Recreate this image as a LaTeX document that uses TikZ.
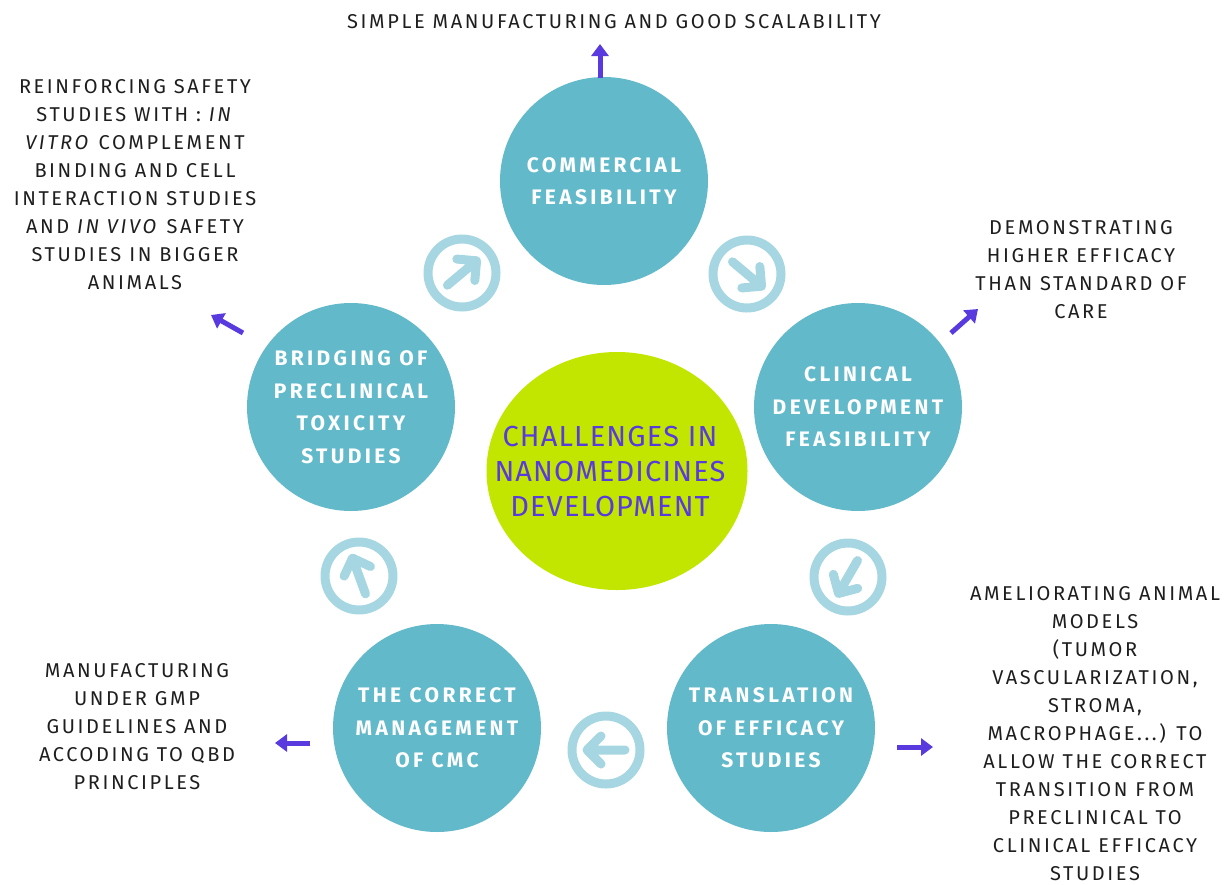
\documentclass[tikz,border=0pt]{standalone}
\usepackage{fontspec}
\setmainfont{Fira Sans}
\newfontfamily\lblfont[LetterSpace=13]{Fira Sans}
\newfontfamily\circfont[LetterSpace=16]{Fira Sans}
\newfontfamily\ctrfont[LetterSpace=4]{Fira Sans}
\usetikzlibrary{arrows.meta,shapes.geometric}
\definecolor{tealc}{RGB}{98,185,202}
\definecolor{ringc}{RGB}{166,214,225}
\definecolor{limec}{RGB}{195,230,0}
\definecolor{purp}{RGB}{88,58,222}
\definecolor{ink}{RGB}{30,30,30}
\begin{document}
\begin{tikzpicture}[x=1pt,y=-1pt,
  bigc/.style={circle, fill=tealc, minimum size=208pt, inner sep=0pt, text=white,
    font=\circfont\bfseries\fontsize{21}{32.5}\selectfont, align=center},
  side/.style={align=center, text=ink, font=\lblfont\fontsize{20}{28}\selectfont},
  parr/.style={draw=purp, line width=5pt, -{Triangle[length=12pt,width=17pt]}},
  cycarrow/.pic={
    \draw[ringc, line width=9pt] (0,0) circle (34pt);
    \draw[ringc, line width=9pt, line cap=round, line join=round]
      (-19,0) -- (19,0) (5,-14) -- (19,0) -- (5,14);
  }
]
\useasboundingbox (0,0) rectangle (1224,884);

% main circles
\node[bigc] (comm) at (604,181) {COMMERCIAL\\FEASIBILITY};
\node[bigc] (clin) at (858,407) {CLINICAL\\DEVELOPMENT\\FEASIBILITY};
\node[bigc] (trans) at (771,728) {TRANSLATION\\OF EFFICACY\\STUDIES};
\node[bigc] (cmc) at (437,728) {THE CORRECT\\MANAGEMENT\\OF CMC};
\node[bigc] (bridge) at (351,407) {BRIDGING OF\\PRECLINICAL\\TOXICITY\\STUDIES};

% centre
\node[ellipse, fill=limec, minimum width=261pt, minimum height=238pt, inner sep=0pt] (center) at (617,471) {};
\node[text=purp, align=center, inner sep=0pt, font=\ctrfont\fontsize{29}{35}\selectfont] (centertext) at (610,472)
  {CHALLENGES IN\\NANOMEDICINES\\DEVELOPMENT};

% cycle arrows
\pic[rotate=40] at (462,273) {cycarrow};
\pic[rotate=-40] at (747,274) {cycarrow};
\pic[rotate=-120] at (848,577) {cycarrow};
\pic[rotate=180] at (606,750) {cycarrow};
\pic[rotate=110] at (359,576) {cycarrow};

% side texts
\node[side] (ttop) at (614,22) {SIMPLE MANUFACTURING AND GOOD SCALABILITY};
\node[side] (tleft) at (135,185) {REINFORCING SAFETY\\STUDIES WITH : \textit{IN}\\\textit{VITRO} COMPLEMENT\\BINDING AND CELL\\INTERACTION STUDIES\\AND \textit{IN VIVO} SAFETY\\STUDIES IN BIGGER\\ANIMALS};
\node[side] (tright) at (1081,270) {DEMONSTRATING\\HIGHER EFFICACY\\THAN STANDARD OF\\CARE};
\node[side] (tbl) at (137,727) {MANUFACTURING\\UNDER GMP\\GUIDELINES AND\\ACCODING TO QBD\\PRINCIPLES};
\node[side] (tbr) at (1095,734) {AMELIORATING ANIMAL\\MODELS\\(TUMOR\\VASCULARIZATION,\\STROMA,\\MACROPHAGE...) TO\\ALLOW THE CORRECT\\TRANSITION FROM\\PRECLINICAL TO\\CLINICAL EFFICACY\\STUDIES};

% purple arrows
\coordinate (a1s) at (600,78); \coordinate (a1e) at (600,44);
\coordinate (a2s) at (243,333); \coordinate (a2e) at (211,315);
\coordinate (a3s) at (951,333); \coordinate (a3e) at (978,309);
\coordinate (a4s) at (310,743); \coordinate (a4e) at (275,743);
\coordinate (a5s) at (897,747); \coordinate (a5e) at (933,747);
\draw[parr] (a1s) -- (a1e);
\draw[parr] (a2s) -- (a2e);
\draw[parr] (a3s) -- (a3e);
\draw[parr] (a4s) -- (a4e);
\draw[parr] (a5s) -- (a5e);
\end{tikzpicture}
\end{document}
